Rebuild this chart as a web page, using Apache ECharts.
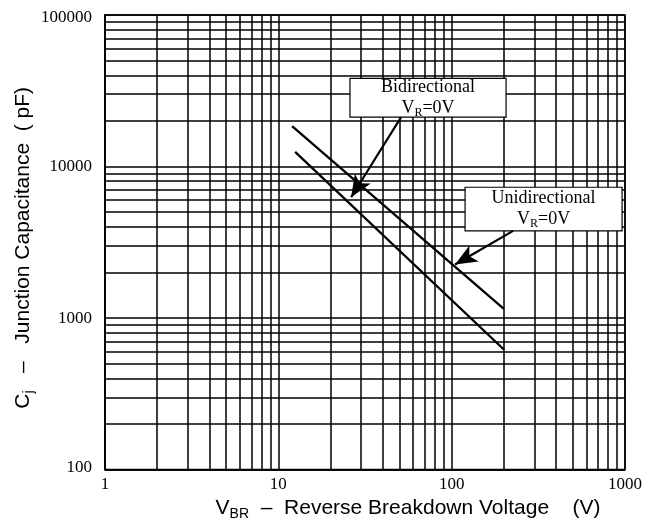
<!DOCTYPE html>
<html>
<head>
<meta charset="utf-8">
<script src="https://cdn.jsdelivr.net/npm/echarts@6/dist/echarts.min.js"></script>
<style>html,body{margin:0;padding:0;background:#fff;}#c{width:651px;height:526px;}</style>
</head>
<body>
<div id="c"></div>
<script>
// Data
const uniV = [12, 200];          // V_BR (V), Unidirectional (upper line)
const uniC = [18500, 1150];      // Cj (pF)
const biV = [12.5, 200];         // V_BR (V), Bidirectional (lower line)
const biC = [12500, 620];        // Cj (pF)

// Axis ranges / ticks
const xMin = 1, xMax = 1000;
const yMin = 100, yMax = 100000;
const xMinorGrid = [];
const yMinorGrid = [];
for (let d = 1; d < xMax; d *= 10) for (let k = 2; k <= 9; k++) xMinorGrid.push(k * d);
for (let d = 100; d < yMax; d *= 10) for (let k = 2; k <= 9; k++) yMinorGrid.push(k * d);

// Annotations (data coordinates)
const biBox = [[25.9, 38200], [206, 21200]];
const biArrow = [[51.1, 21200], [26.3, 6270]];
const uniBox = [[119.5, 7300], [962, 3760]];
const uniArrow = [[226, 3760], [104.6, 2255]];

const serif = 'Liberation Serif';
const sans = 'Liberation Sans';
const boxRich = {
  t: {fontFamily: serif, fontSize: 18, color: '#000', lineHeight: 21},
  v: {fontFamily: serif, fontSize: 18, color: '#000', lineHeight: 21},
  s: {fontFamily: serif, fontSize: 12, color: '#000', lineHeight: 12, verticalAlign: 'bottom'}
};
const nameRich = {
  n: {fontFamily: sans, fontSize: 21, color: '#000', lineHeight: 26},
  s: {fontFamily: sans, fontSize: 14, color: '#000', lineHeight: 13, verticalAlign: 'bottom'}
};
const tickRich = {
  lo: {fontFamily: serif, fontSize: 17, color: '#000', padding: [0, 0, 5, 0]},
  hi: {fontFamily: serif, fontSize: 17, color: '#000', padding: [6, 0, 0, 0]}
};

const chart = echarts.init(document.getElementById('c'), null, {renderer: 'canvas'});
chart.setOption({
  animation: false,
  grid: {left: 105, right: 26, top: 15, bottom: 52, show: true, borderColor: '#000', borderWidth: 1.5, backgroundColor: 'transparent'},
  xAxis: {
    type: 'log', logBase: 10, min: xMin, max: xMax,
    axisLine: {show: true, lineStyle: {color: '#000', width: 1.5}},
    axisTick: {show: false},
    splitLine: {show: true, lineStyle: {color: '#000', width: 1.5}},
    axisLabel: {fontFamily: serif, fontSize: 17, color: '#000', margin: 6, formatter: v => String(Math.round(v))},
    name: '{n|V}{s|BR}{n|  –  Reverse Breakdown Voltage    (V)}',
    nameLocation: 'middle', nameGap: 22,
    nameTextStyle: {rich: nameRich, padding: [0, 0, 0, 86]}
  },
  yAxis: {
    type: 'log', logBase: 10, min: yMin, max: yMax,
    axisLine: {show: true, lineStyle: {color: '#000', width: 1.5}},
    axisTick: {show: false},
    splitLine: {show: true, lineStyle: {color: '#000', width: 1.5}},
    axisLabel: {
      fontFamily: serif, fontSize: 17, color: '#000', margin: 13, rich: tickRich,
      formatter: v => {
        const s = String(Math.round(v));
        if (Math.round(v) === yMin) return '{lo|' + s + '}';
        if (Math.round(v) === yMax) return '{hi|' + s + '}';
        return s;
      }
    },
    name: '{n|C}{s|j}{n|   –   Junction Capacitance  ( pF)}',
    nameLocation: 'middle', nameGap: 69, nameRotate: 90, nameMoveOverlap: false,
    nameTextStyle: {rich: nameRich, padding: [0, 11, 0, 0]}
  },
  series: [
    {
      type: 'line', data: [], z: 1, silent: true,
      markLine: {
        z: 1, silent: true, symbol: ['none', 'none'], animation: false,
        label: {show: false},
        lineStyle: {color: '#000', width: 1.5, type: 'solid'},
        emphasis: {disabled: true},
        data: xMinorGrid.map(v => ({xAxis: v})).concat(yMinorGrid.map(v => ({yAxis: v})))
      }
    },
    {
      type: 'line', data: [], z: 3, silent: true,
      markArea: {
        z: 3, silent: true,
        itemStyle: {color: '#fff', borderColor: '#000', borderWidth: 1.2, opacity: 1},
        label: {show: true, position: 'inside', rich: boxRich},
        emphasis: {disabled: true},
        data: [
          [{coord: biBox[0], label: {formatter: '{t|Bidirectional}\n{v|V}{s|R}{v|=0V}'}}, {coord: biBox[1]}],
          [{coord: uniBox[0], label: {formatter: '{t|Unidirectional}\n{v|V}{s|R}{v|=0V}'}}, {coord: uniBox[1]}]
        ]
      }
    },
    {
      name: 'Unidirectional', type: 'line', z: 4, symbol: 'none', silent: true,
      lineStyle: {color: '#000', width: 2.3},
      data: uniV.map((v, i) => [v, uniC[i]])
    },
    {
      name: 'Bidirectional', type: 'line', z: 4, symbol: 'none', silent: true,
      lineStyle: {color: '#000', width: 2.3},
      data: biV.map((v, i) => [v, biC[i]])
    },
    {
      type: 'line', data: [], z: 6, silent: true,
      markLine: {
        z: 6, silent: true, symbol: ['none', 'arrow'], symbolSize: [14, 22], animation: false,
        label: {show: false},
        lineStyle: {color: '#000', width: 2.2, type: 'solid'},
        itemStyle: {color: '#000'},
        emphasis: {disabled: true},
        data: [
          [{coord: biArrow[0]}, {coord: biArrow[1]}],
          [{coord: uniArrow[0]}, {coord: uniArrow[1]}]
        ]
      }
    }
  ]
});
</script>
</body>
</html>
